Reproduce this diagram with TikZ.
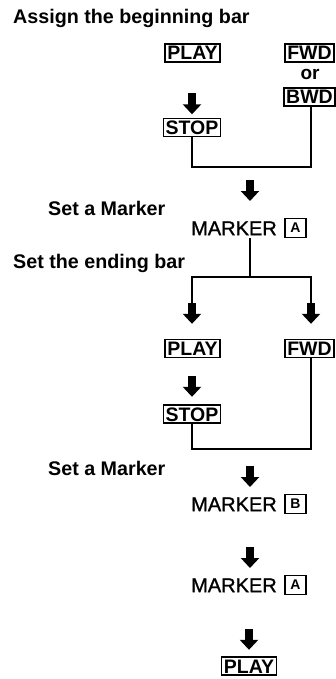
\documentclass[tikz,border=0pt]{standalone}
\usepackage{fontspec}
\setmainfont{Liberation Sans}
\newfontfamily\medsans{Liberation Sans}[FakeBold=1.2]
\usetikzlibrary{arrows.meta}
\begin{document}
\begin{tikzpicture}[x=1pt,y=-1pt,
  lab/.style={anchor=west, inner sep=0pt, font=\fontsize{19.7}{22}\selectfont\bfseries},
  key/.style={draw, line width=1.4pt, inner xsep=2.2pt, inner ysep=2pt, text height=14pt, text depth=0pt, font=\fontsize{19.5}{22}\selectfont\bfseries},
  mk/.style={anchor=west, inner sep=0pt, text height=14.3pt, text depth=0pt, font=\medsans\fontsize{20}{22}\selectfont},
  letter/.style={draw, line width=1.4pt, minimum width=21pt, minimum height=19pt, inner sep=0pt, font=\fontsize{14}{15}\selectfont\bfseries},
  orlab/.style={inner sep=0pt, font=\fontsize{19}{22}\selectfont\bfseries},
  conn/.style={line width=2.6pt},
  barrow/.style={line width=7.5pt, -{Triangle[width=18pt,length=10pt]}},
]
\useasboundingbox (0,0) rectangle (335,679);

% ---- beginning bar
\node[lab] (t1) at (13,18) {Assign the beginning bar};
\node[key] (play1) at (192.5,53) {PLAY};
\node[key] (fwd1) at (309.5,53) {FWD};
\node[orlab] (or1) at (310,74) {or};
\node[key] (bwd1) at (309.5,97) {BWD};
\node[key] (stop1) at (192,127.5) {STOP};

\coordinate (a1) at (192,93);
\draw[barrow, shorten >=3.5pt] (a1) -- (stop1.north);

\coordinate (h1l) at (192,167);
\coordinate (h1r) at (311,167);
\draw[conn] (stop1.south) -- (h1l) -- (h1r) -- (h1r |- bwd1.south);

% ---- first marker A
\node[lab] (sm1) at (48,208) {Set a Marker};
\coordinate (a2) at (250,180);
\coordinate (mA1top) at (250,219);
\draw[barrow, shorten >=18pt] (a2) -- (mA1top);
\node[mk] (mA1) at (191,228) {MARKER};
\node[letter] (bA1) at (295.5,228) {A};

% ---- ending bar
\node[lab] (t2) at (13,263) {Set the ending bar};
\coordinate (mA1bot) at (250,238);
\coordinate (j2) at (250,277);
\coordinate (j2l) at (192,277);
\coordinate (j2r) at (311,277);
\coordinate (a3l) at (192,303);
\coordinate (a3r) at (311,303);
\draw[conn] (mA1bot) -- (j2);
\draw[conn] (a3l) -- (j2l) -- (j2r) -- (a3r);

\node[key] (play2) at (192.5,348.5) {PLAY};
\node[key] (fwd2) at (309.5,348.5) {FWD};
\draw[barrow, shorten >=15pt] (a3l) -- (a3l |- play2.north);
\draw[barrow, shorten >=15pt] (a3r) -- (a3r |- fwd2.north);

\node[key] (stop2) at (192,414) {STOP};
\coordinate (a4) at (192,376);
\draw[barrow, shorten >=7.5pt] (a4) -- (stop2.north);

\coordinate (h2l) at (192,449);
\coordinate (h2r) at (311,449);
\draw[conn] (stop2.south) -- (h2l) -- (h2r) -- (h2r |- fwd2.south);

% ---- marker B
\node[lab] (sm2) at (48,468) {Set a Marker};
\coordinate (a5) at (250,466);
\coordinate (mBtop) at (250,495);
\draw[barrow, shorten >=8pt] (a5) -- (mBtop);
\node[mk] (mB) at (191,504) {MARKER};
\node[letter] (bB) at (295.5,504) {B};

% ---- marker A again
\coordinate (a6) at (250,547);
\coordinate (mA2top) at (250,576);
\draw[barrow, shorten >=8pt] (a6) -- (mA2top);
\node[mk] (mA2) at (191,585) {MARKER};
\node[letter] (bA2) at (295.5,585) {A};

% ---- play
\node[key] (play3) at (249,666) {PLAY};
\coordinate (a7) at (249,629);
\draw[barrow, shorten >=6.5pt] (a7) -- (play3.north);
\end{tikzpicture}
\end{document}
